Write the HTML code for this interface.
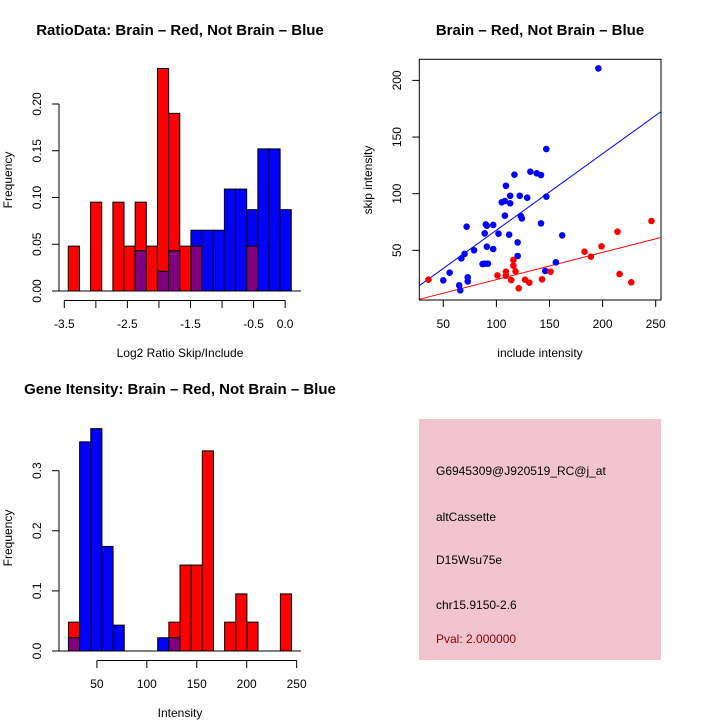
<!DOCTYPE html>
<html><head><meta charset="utf-8"><style>
html,body{margin:0;padding:0;background:#fff;}
svg{display:block;font-family:"Liberation Sans",Arial,sans-serif;}
</style></head><body>
<svg id="s" width="720" height="720" viewBox="0 0 720 720">
<rect width="720" height="720" fill="#fff"/>
</svg>
<script>
// ---- Data: ratio histogram ----
const ratioBinStart = -3.437;
const ratioBinWidth = 0.1767;
const ratioRed  = [0.048,0,0.095,0,0.095,0.048,0.095,0.048,0.238,0.190,0.048,0.048,0,0,0,0,0.048,0,0,0];
const ratioBlue = [0,0,0,0,0,0,0.043,0,0.021,0.043,0,0.065,0.065,0.065,0.109,0.109,0.087,0.152,0.152,0.087];
const ratioYTicks = [0,0.05,0.10,0.15,0.20];
const ratioYLabels = ["0.00","0.05","0.10","0.15","0.20"];
const ratioXTicks = [-3.5,-3,-2.5,-2,-1.5,-1,-0.5,0];
const ratioXLabels = ["-3.5","","-2.5","","-1.5","","-0.5","0.0"];
// ---- Data: intensity histogram ----
const intBinStart = 21.5;
const intBinWidth = 11.17;
const intRed  = [0.048,0,0,0,0,0,0,0,0,0.048,0.143,0.143,0.333,0,0.048,0.095,0.048,0,0,0.095];
const intBlue = [0.022,0.348,0.370,0.174,0.043,0,0,0,0.022,0.022,0,0,0,0,0,0,0,0,0,0];
const intYTicks = [0,0.1,0.2,0.3];
const intYLabels = ["0.0","0.1","0.2","0.3"];
const intXTicks = [50,100,150,200,250];
// ---- Data: scatter ----
const blueX = [196,147,72,117,109,132,138,142,113,122,105,108,113,129,147,108,123,124,142,90,91,97,89,102,112,162,120,91,79,97,70,67,120,87,89,92,156,146,56,73,73,50,65,66];
const blueY = [210.6,139.4,70.9,116.8,107,119.4,118,116.5,98.2,98.2,92.4,93.5,91.5,96.5,97.4,80.6,80.3,78.2,73.8,72.9,71.8,72.4,65,64.7,63.8,63.2,57,53.2,50,51.2,46.8,42.9,45,37.9,38.2,38.2,39.4,31.8,30.3,26.2,22.6,23.5,19.1,14.7];
const redX = [36,246,214,199,183,189,216,227,116,116,118,109,109,101,114,127,131,143,151,121];
const redY = [24.1,75.9,66.5,53.5,48.8,44.4,29.1,21.8,41.5,36.5,31.5,31.2,27.6,27.9,23.8,24.1,21.5,24.4,31.2,16.5];
const blueFit = [0.3,0.675];  // intercept, slope
const redFit  = [0.2,0.240];
const scXTicks = [50,100,150,200,250];
const scYTicks = [50,100,150,200];

const NS="http://www.w3.org/2000/svg";
const svg=document.getElementById('s');
function el(tag,attrs,parent){const e=document.createElementNS(NS,tag);for(const k in attrs)e.setAttribute(k,attrs[k]);(parent||svg).appendChild(e);return e;}
function txt(x,y,s,opts,parent){const t=el('text',Object.assign({x:x,y:y,'font-size':12,'text-anchor':'middle',fill:'#000'},opts||{}),parent);t.textContent=s;return t;}

function histogram(name,g,red,blue,start,width,xs,ys){
  for(let i=0;i<red.length;i++){
    const x0=xs(start+i*width), x1=xs(start+(i+1)*width);
    const r=red[i], b=blue[i], m=Math.min(r,b);
    if(r>0){const e=el('rect',{x:x0,y:ys(r),width:x1-x0,height:ys(0)-ys(r),fill:'#ff0000',stroke:'#000','stroke-width':1},g);
      
      }
    if(b>0){const e=el('rect',{x:x0,y:ys(b),width:x1-x0,height:ys(0)-ys(b),fill:'#0000ff',stroke:'#000','stroke-width':1},g);
      
      }
    if(m>0){const e=el('rect',{x:x0,y:ys(m),width:x1-x0,height:ys(0)-ys(m),fill:'#800080',stroke:'#000','stroke-width':1},g);
      
      }
  }
}

// ===== Panel 1: ratio histogram =====
(function(){
  const g=el('g',{});
  
  
  const xs=v=>64.3+(v+3.5)*63.1;
  const ys=f=>291-f*935;
  histogram('ratio',g,ratioRed,ratioBlue,ratioBinStart,ratioBinWidth,xs,ys);
  el('line',{x1:52,y1:291,x2:301,y2:291,stroke:'#000'},g);
  const ya=el('g',{},g);
  el('line',{x1:59,y1:ys(0),x2:59,y2:ys(0.20),stroke:'#000'},ya);
  ratioYTicks.forEach((v,i)=>{el('line',{x1:52,y1:ys(v),x2:59,y2:ys(v),stroke:'#000'},ya);
    txt(41,ys(v),ratioYLabels[i],{transform:`rotate(-90 41 ${ys(v)})`},ya);});
  const xa=el('g',{},g);
  el('line',{x1:xs(-3.5),y1:300.5,x2:xs(0),y2:300.5,stroke:'#000'},xa);
  ratioXTicks.forEach((v,i)=>{el('line',{x1:xs(v),y1:300.5,x2:xs(v),y2:308,stroke:'#000'},xa);
    if(ratioXLabels[i])txt(xs(v),328,ratioXLabels[i],{},xa);});
  const t=txt(180,35,'RatioData: Brain – Red, Not Brain – Blue',{'font-weight':'bold','font-size':15},g);
  
  const xl=txt(180,357,'Log2 Ratio Skip/Include',{},g);
  
  const yl=txt(12,180,'Frequency',{transform:'rotate(-90 12 180)'},g);
  
})();

// ===== Panel 2: scatter =====
(function(){
  const g=el('g',{});
  
  
  const xs=v=>390.2+v*1.062;
  const ys=v=>307-v*1.133;
  const L=419.3,R=661,T=59.3,B=300;
  el('rect',{x:L,y:T,width:R-L,height:B-T,fill:'none',stroke:'#000'},g);
  const xinv=px=>(px-390.2)/1.062;
  const cp=el('clipPath',{id:'scclip'},g);el('rect',{x:L,y:T,width:R-L,height:B-T},cp);
  [[blueFit,'#0000ff','blue-fit-line'],[redFit,'#ff0000','red-fit-line']].forEach(([f,c,n])=>{
    const a=xinv(L),b=xinv(R);
    const ln=el('line',{x1:L,y1:ys(f[0]+f[1]*a),x2:R,y2:ys(f[0]+f[1]*b),stroke:c,'stroke-width':1,'clip-path':'url(#scclip)'},g);
    
  });
  blueX.forEach((x,i)=>{const c=el('circle',{cx:xs(x),cy:ys(blueY[i]),r:3.3,fill:'#0000ff'},g);
    });
  redX.forEach((x,i)=>{const c=el('circle',{cx:xs(x),cy:ys(redY[i]),r:3.3,fill:'#ff0000'},g);
    });
  const xa=el('g',{},g);
  scXTicks.forEach(v=>{el('line',{x1:xs(v),y1:B,x2:xs(v),y2:B+7,stroke:'#000'},xa);txt(xs(v),328,String(v),{},xa);});
  const ya=el('g',{},g);
  scYTicks.forEach(v=>{el('line',{x1:L-7,y1:ys(v),x2:L,y2:ys(v),stroke:'#000'},ya);
    txt(401,ys(v),String(v),{transform:`rotate(-90 401 ${ys(v)})`},ya);});
  const t=txt(540,35,'Brain – Red, Not Brain – Blue',{'font-weight':'bold','font-size':15},g);
  
  const xl=txt(540,357,'include intensity',{},g);
  
  const yl=txt(372,180,'skip intensity',{transform:'rotate(-90 372 180)'},g);
  
})();

// ===== Panel 3: intensity histogram =====
(function(){
  const g=el('g',{});
  
  
  const xs=v=>47+v*0.9985;
  const ys=f=>651-f*601;
  histogram('int',g,intRed,intBlue,intBinStart,intBinWidth,xs,ys);
  el('line',{x1:52,y1:651,x2:301,y2:651,stroke:'#000'},g);
  const ya=el('g',{},g);
  el('line',{x1:59,y1:ys(0),x2:59,y2:ys(0.3),stroke:'#000'},ya);
  intYTicks.forEach((v,i)=>{el('line',{x1:52,y1:ys(v),x2:59,y2:ys(v),stroke:'#000'},ya);
    txt(41,ys(v),intYLabels[i],{transform:`rotate(-90 41 ${ys(v)})`},ya);});
  const xa=el('g',{},g);
  el('line',{x1:xs(50),y1:660.5,x2:xs(250),y2:660.5,stroke:'#000'},xa);
  intXTicks.forEach(v=>{el('line',{x1:xs(v),y1:660.5,x2:xs(v),y2:668,stroke:'#000'},xa);txt(xs(v),688,String(v),{},xa);});
  const t=txt(180,394,'Gene Itensity: Brain – Red, Not Brain – Blue',{'font-weight':'bold','font-size':15},g);
  
  const xl=txt(180,717,'Intensity',{},g);
  
  const yl=txt(12,538,'Frequency',{transform:'rotate(-90 12 538)'},g);
  
})();

// ===== Panel 4: info box =====
(function(){
  const g=el('g',{});
  
  
  el('rect',{x:419,y:419,width:242,height:241,fill:'#f2c4cf'},g);
  const lines=[['G6945309@J920519_RC@j_at',475,'#000','probe-id'],['altCassette',521,'#000','event-type'],['D15Wsu75e',564,'#000','gene-name'],['chr15.9150-2.6',609,'#000','location'],['Pval: 2.000000',643,'#8b0000','p-value']];
  lines.forEach(([s,y,c,n])=>{const t=txt(436,y,s,{'text-anchor':'start',fill:c},g);
    });
})();
</script>
</body></html>
